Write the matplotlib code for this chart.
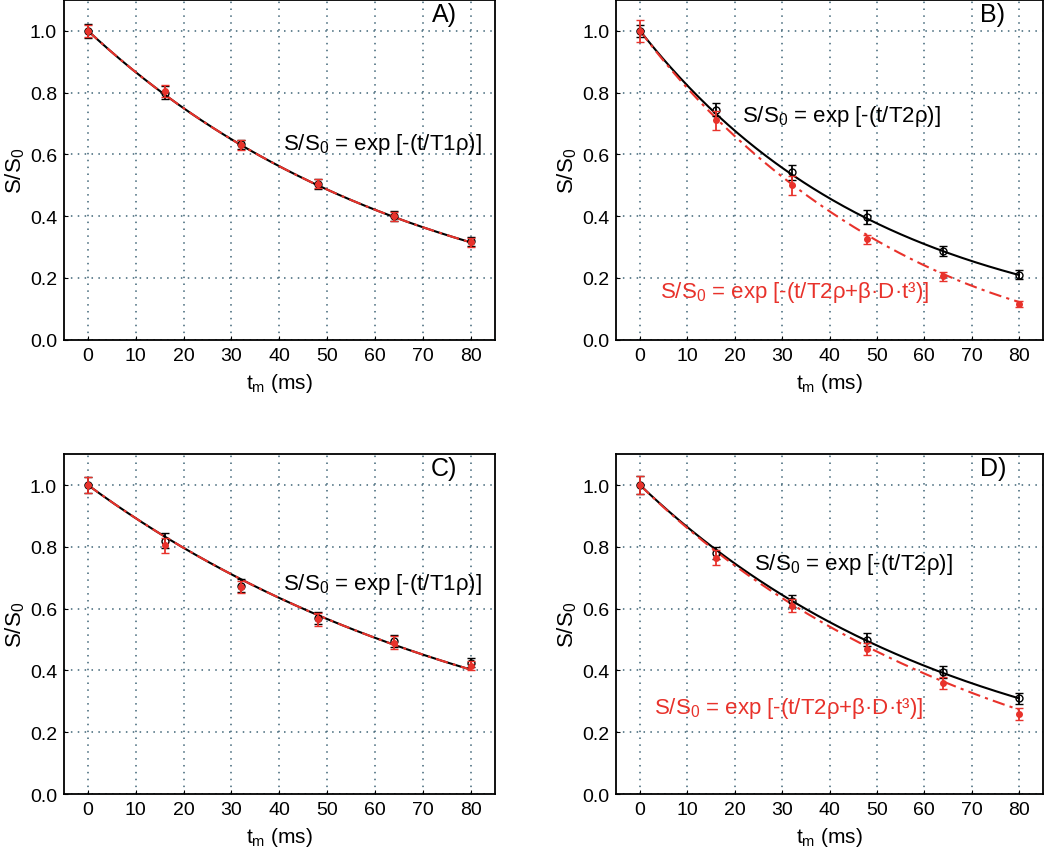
import numpy as np
import matplotlib
matplotlib.use('Agg')
import matplotlib.pyplot as plt

plt.rcParams['font.family'] = ['Liberation Sans', 'DejaVu Sans']
plt.rcParams['mathtext.fontset'] = 'custom'
plt.rcParams['mathtext.rm'] = 'Liberation Sans'
plt.rcParams['mathtext.it'] = 'Liberation Sans'

t_m = [0, 16, 32, 48, 64, 80]

# panel A (T1rho, both series overlap)
a_black = [1.0, 0.80, 0.632, 0.505, 0.40, 0.318]
a_black_err = [0.022, 0.022, 0.015, 0.016, 0.016, 0.015]
a_red = [1.0, 0.805, 0.63, 0.505, 0.40, 0.315]
a_red_err = [0.02, 0.02, 0.015, 0.015, 0.015, 0.015]
a_T = 69.3

# panel B (T2rho)
b_black = [1.0, 0.745, 0.542, 0.397, 0.287, 0.21]
b_black_err = [0.02, 0.02, 0.024, 0.022, 0.017, 0.015]
b_red = [1.0, 0.71, 0.50, 0.325, 0.205, 0.115]
b_red_err = [0.035, 0.03, 0.03, 0.015, 0.015, 0.01]
b_T = 51.2
b_red_a, b_red_k = 0.0205, 9.0e-7

# panel C (T1rho)
c_black = [1.0, 0.82, 0.675, 0.57, 0.495, 0.425]
c_black_err = [0.025, 0.025, 0.02, 0.02, 0.02, 0.015]
c_red = [1.0, 0.805, 0.67, 0.565, 0.49, 0.415]
c_red_err = [0.025, 0.025, 0.02, 0.02, 0.02, 0.015]
c_T = 88.0

# panel D (T2rho)
d_black = [1.0, 0.78, 0.625, 0.50, 0.395, 0.31]
d_black_err = [0.03, 0.02, 0.02, 0.02, 0.018, 0.017]
d_red = [1.0, 0.765, 0.61, 0.47, 0.36, 0.26]
d_red_err = [0.03, 0.025, 0.02, 0.02, 0.02, 0.02]
d_T = 68.3
d_red_a, d_red_k = 0.0150, 1.9e-7

txt_t1 = r'S/S$_0$ = exp [-(t/T1ρ)]'
txt_t2 = r'S/S$_0$ = exp [-(t/T2ρ)]'
txt_t2d = r'S/S$_0$ = exp [-(t/T2ρ+β·D·t³)]'

RED = '#e8322b'
tt = np.linspace(0, 80, 200)

fig = plt.figure(figsize=(10.5, 8.54), dpi=100)
axA = fig.add_axes([0.061, 0.601, 0.41, 0.398])
axB = fig.add_axes([0.587, 0.601, 0.406, 0.398])
axC = fig.add_axes([0.061, 0.069, 0.41, 0.398])
axD = fig.add_axes([0.587, 0.069, 0.406, 0.398])


def draw(ax, blk, blk_err, red, red_err, fit_b, fit_r, label):
    ax.plot(tt, fit_b, color='black', lw=1.5, zorder=3)
    ax.plot(tt, fit_r, color=RED, lw=1.5, ls=(0, (6, 2.5, 1.5, 2.5)), zorder=4)
    ax.errorbar(t_m, blk, yerr=blk_err, fmt='o', color='black', mfc='none',
                ms=5, mew=1.0, capsize=3, elinewidth=1.3, zorder=5)
    ax.errorbar(t_m, red, yerr=red_err, fmt='o', color=RED, mfc=RED,
                ms=4, capsize=3, elinewidth=1.3, zorder=6)
    ax.set_xlim(-5, 85)
    ax.set_ylim(0, 1.1)
    ax.set_xticks(range(0, 81, 10))
    ax.set_yticks([0.0, 0.2, 0.4, 0.6, 0.8, 1.0])
    ax.set_yticklabels(['0.0', '0.2', '0.4', '0.6', '0.8', '1.0'])
    ax.tick_params(direction='in', labelsize=14, length=3, pad=5)
    ax.grid(True, linestyle=(0, (1, 3.5)), color='#3f6577', lw=1.1)
    ax.set_axisbelow(True)
    ax.set_xlabel(r't$_{\rm m}$ (ms)', fontsize=15, labelpad=5)
    ax.set_ylabel(r'S/S$_0$', fontsize=16, labelpad=2)
    ax.text(74.5, 1.055, label, fontsize=18, ha='center', va='center')
    for s in ax.spines.values():
        s.set_linewidth(1.3)


draw(axA, a_black, a_black_err, a_red, a_red_err,
     np.exp(-tt / a_T), np.exp(-tt / a_T), 'A)')
axA.text(40.8, 0.634, txt_t1, fontsize=16, va='center')

draw(axB, b_black, b_black_err, b_red, b_red_err,
     np.exp(-tt / b_T), np.exp(-(b_red_a * tt + b_red_k * tt ** 3)), 'B)')
axB.text(21.5, 0.725, txt_t2, fontsize=16, va='center')
axB.text(4.2, 0.155, txt_t2d, fontsize=16, va='center', color=RED)

draw(axC, c_black, c_black_err, c_red, c_red_err,
     np.exp(-tt / c_T), np.exp(-tt / c_T), 'C)')
axC.text(40.8, 0.68, txt_t1, fontsize=16, va='center')

draw(axD, d_black, d_black_err, d_red, d_red_err,
     np.exp(-tt / d_T), np.exp(-(d_red_a * tt + d_red_k * tt ** 3)), 'D)')
axD.text(24, 0.745, txt_t2, fontsize=16, va='center')
axD.text(3, 0.28, txt_t2d, fontsize=16, va='center', color=RED)

fig.savefig('out.png', dpi=100)
